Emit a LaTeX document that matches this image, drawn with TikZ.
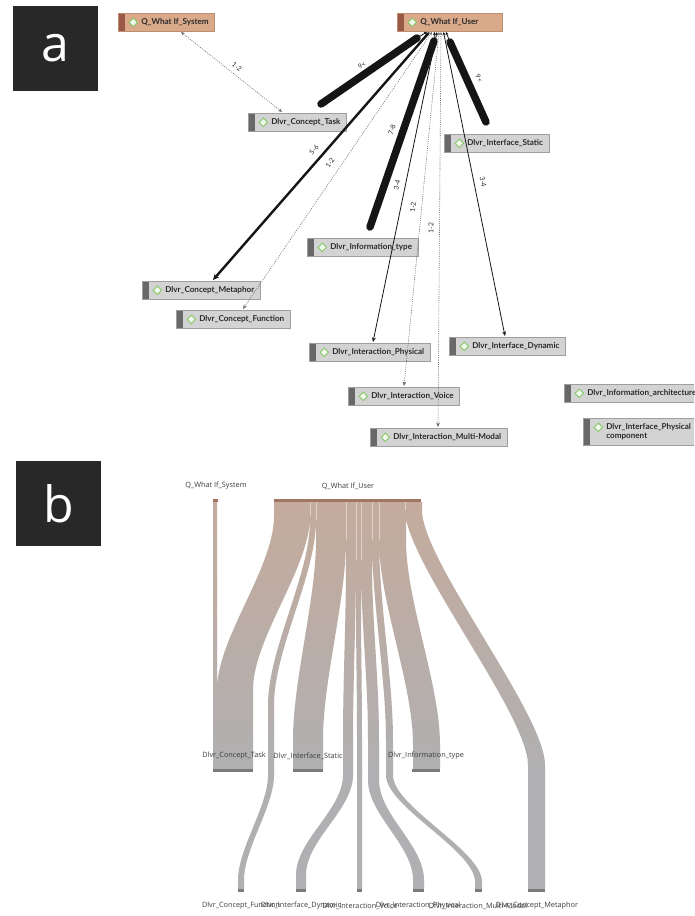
\documentclass[tikz,border=0pt]{standalone}
\usepackage{fontspec}
\usetikzlibrary{arrows.meta,calc}
\newfontfamily\latofont{Lato}
\newfontfamily\opensansfont{Open Sans}

\definecolor{tanfill}{HTML}{D9A98A}
\definecolor{tanline}{HTML}{BE8E72}
\definecolor{tanband}{HTML}{9A5846}
\definecolor{grayfill}{HTML}{D3D3D3}
\definecolor{grayline}{HTML}{9E9E9E}
\definecolor{grayband}{HTML}{68686B}
\definecolor{gem}{HTML}{86C765}
\definecolor{gemfill}{HTML}{F2F9EE}
\definecolor{inkdark}{HTML}{151515}
\definecolor{dotgray}{HTML}{6E6E6E}
\definecolor{textdark}{HTML}{2A2A2A}
\definecolor{tagdark}{HTML}{282828}
\definecolor{flowtan}{HTML}{C4AB9D}
\definecolor{flowgray}{HTML}{B0AFB1}
\definecolor{barbrown}{HTML}{A07563}
\definecolor{bargray}{HTML}{7B7B7D}
\definecolor{sanktext}{HTML}{3C3C3C}

% text of a code box: room for the band and the diamond on the left
\newcommand\boxtext[2][6pt]{\hspace*{23pt}#2\hspace*{#1}}

% one-stage Sankey band: xa xb width start-curve end-curve bottom k
\newcommand\flowone[7]{%
 (#1,502) -- (#1,#4) .. controls (#1,{#4+#7*(#5-#4)}) and (#2,{#5-#7*(#5-#4)}) .. (#2,#5)
 -- (#2,#6) -- ({#2+#3},#6) -- ({#2+#3},#5)
 .. controls ({#2+#3},{#5-#7*(#5-#4)}) and ({#1+#3},{#4+#7*(#5-#4)}) .. ({#1+#3},#4)
 -- ({#1+#3},502) -- cycle }
% two-stage Sankey band: xa xmid xb width s1 e1 s2 e2 k
\newcommand\flowtwo[9]{%
 (#1,502) -- (#1,#5) .. controls (#1,{#5+#9*(#6-#5)}) and (#2,{#6-#9*(#6-#5)}) .. (#2,#6)
 -- (#2,#7) .. controls (#2,{#7+#9*(#8-#7)}) and (#3,{#8-#9*(#8-#7)}) .. (#3,#8)
 -- (#3,889) -- ({#3+#4},889) -- ({#3+#4},#8)
 .. controls ({#3+#4},{#8-#9*(#8-#7)}) and ({#2+#4},{#7+#9*(#8-#7)}) .. ({#2+#4},#7)
 -- ({#2+#4},#6) .. controls ({#2+#4},{#6-#9*(#6-#5)}) and ({#1+#4},{#5+#9*(#6-#5)}) .. ({#1+#4},#5)
 -- ({#1+#4},502) -- cycle }

\tikzset{
  boxbase/.style n args={3}{draw=#2, fill=#1, line width=0.6pt, anchor=north west,
    minimum height=18pt, inner xsep=0pt, inner ysep=2pt, align=left,
    font=\latofont\bfseries\fontsize{8.1}{9.6}\selectfont, text=textdark,
    path picture={
      \fill[#3] (path picture bounding box.north west) rectangle ([xshift=6.5pt]path picture bounding box.south west);
      \draw[gem, fill=gemfill, line width=0.9pt]
        ([xshift=10.8pt,yshift=-9pt]path picture bounding box.north west)
        -- ++(4.2pt,4.2pt) -- ++(4.2pt,-4.2pt) -- ++(-4.2pt,-4.2pt) -- cycle;
    }},
  dnode/.style={boxbase={grayfill}{grayline}{grayband}},
  qnode/.style={boxbase={tanfill}{tanline}{tanband}},
  link/.style={draw=inkdark, line width=0.8pt},
  dotlink/.style={draw=dotgray, line width=0.6pt, dash pattern=on 1pt off 1.2pt},
  heavy/.style={draw=inkdark, line width=7.5pt, line cap=round},
  backtip/.style={{Stealth[length=3.2pt,width=3pt]}-},
  bothtips/.style={{Stealth[length=4pt,width=3.4pt]}-{Stealth[length=4pt,width=3.4pt]}},
  fronttip/.style={{Stealth[length=3.2pt,width=3pt]}-{Stealth[length=4.5pt,width=3.8pt]}},
  elabel/.style={font=\latofont\fontsize{6.8}{7}\selectfont, text=textdark, inner sep=0pt},
  tagbox/.style={fill=tagdark, minimum width=85pt, minimum height=85pt, inner sep=0pt,
    text=white, font=\opensansfont\fontsize{50}{50}\selectfont},
  sklabel/.style={font=\opensansfont\fontsize{7.3}{8}\selectfont, text=sanktext, inner sep=0pt}
}

\begin{document}
\begin{tikzpicture}[x=1pt,y=-1pt]
\useasboundingbox (0,0) rectangle (694,916);
\fill[white] (0,0) rectangle (694,916);
\clip (0,0) rectangle (694,916);

% ---------- panel tags ----------
\node[tagbox] (tagA) at (55.5,48.5) {a};
\node[tagbox] (tagB) at (58.5,503.5) {b};

% ---------- network view ----------
\node[qnode] (sys)   at (118,13)  {\boxtext{Q\_What If\_System}};
\node[qnode] (user)  at (397,13)  {\boxtext[24pt]{Q\_What If\_User}};
\node[dnode] (task)  at (248,113) {\boxtext{Dlvr\_Concept\_Task}};
\node[dnode] (stat)  at (444,134) {\boxtext{Dlvr\_Interface\_Static}};
\node[dnode] (info)  at (307,238) {\boxtext{Dlvr\_Information\_type}};
\node[dnode] (meta)  at (142,281) {\boxtext{Dlvr\_Concept\_Metaphor}};
\node[dnode] (func)  at (176,310) {\boxtext{Dlvr\_Concept\_Function}};
\node[dnode] (phys)  at (309,343) {\boxtext{Dlvr\_Interaction\_Physical}};
\node[dnode] (dyn)   at (449,337) {\boxtext{Dlvr\_Interface\_Dynamic}};
\node[dnode] (voice) at (348,387) {\boxtext{Dlvr\_Interaction\_Voice}};
\node[dnode] (multi) at (370,428) {\boxtext{Dlvr\_Interaction\_Multi-Modal}};
\node[dnode] (arch)  at (564,384) {\boxtext{Dlvr\_Information\_architecture}};
\node[dnode, minimum height=27pt] (ipc) at (583,418)
  {\hspace*{23pt}Dlvr\_Interface\_Physical\hspace*{6pt}\\\hspace*{23pt}component};

% link end points
\coordinate (sysP)   at (181,32);
\coordinate (taskS)  at (282,112);
\coordinate (uTask)  at (427,32);
\coordinate (uMeta)  at (429.5,32);
\coordinate (uFunc)  at (432,32);
\coordinate (uInfo)  at (434.5,32);
\coordinate (uPhys)  at (437,32);
\coordinate (uVoice) at (439,32);
\coordinate (uMulti) at (441,32);
\coordinate (uDyn)   at (443.5,32);
\coordinate (uStat)  at (446,32);
\coordinate (taskA)  at (417,38);
\coordinate (taskB)  at (321,104);
\coordinate (statA)  at (450,42);
\coordinate (statB)  at (486,122);
\coordinate (infoA)  at (434,41);
\coordinate (infoB)  at (370,227);
\coordinate (metaP)  at (213,280);
\coordinate (funcP)  at (243,309);
\coordinate (physP)  at (373,342);
\coordinate (voiceP) at (404,386);
\coordinate (multiP) at (438,427);
\coordinate (dynP)   at (505,336);

% links
\draw[dotlink, bothtips] (sysP) -- (taskS);
\draw[link, backtip] (uTask) -- (taskA);
\draw[heavy] (taskA) -- (taskB);
\draw[link, backtip] (uStat) -- (statA);
\draw[heavy] (statA) -- (statB);
\draw[link, backtip] (uInfo) -- (infoA);
\draw[heavy] (infoA) -- (infoB);
\draw[link, line width=2.4pt, {Stealth[length=3.2pt,width=3pt]}-{Stealth[length=6pt,width=5.5pt]}] (uMeta) -- (metaP);
\draw[dotlink, fronttip] (uFunc) -- (funcP);
\draw[link, fronttip] (uPhys) -- (physP);
\draw[dotlink, fronttip] (uVoice) -- (voiceP);
\draw[dotlink, fronttip] (uMulti) -- (multiP);
\draw[link, fronttip] (uDyn) -- (dynP);

% link weights
\node[elabel, rotate=-38] (w1) at (237,67)  {1-2};
\node[elabel, rotate=35]  (w2) at (362,65)  {9<};
\node[elabel, rotate=-66] (w3) at (479,78)  {9<};
\node[elabel, rotate=48]  (w4) at (314,150) {5-6};
\node[elabel, rotate=55]  (w5) at (330,163) {1-2};
\node[elabel, rotate=71]  (w6) at (392,130) {7-8};
\node[elabel, rotate=78]  (w7) at (397,185) {3-4};
\node[elabel, rotate=84]  (w8) at (413,207) {1-2};
\node[elabel, rotate=89]  (w9) at (431,228) {1-2};
\node[elabel, rotate=-78] (w10) at (483,182) {3-4};

% ---------- flow view ----------
\begin{scope}
  \clip (213,502) rectangle (217,769)
    \flowone{274}{217}{36}{516}{690}{769}{0.3}
    \flowtwo{310}{268}{238}{6}{520}{705}{775}{880}{0.3}
    \flowone{316}{293}{30}{540}{740}{769}{0.3}
    \flowtwo{346}{343}{296}{10}{560}{740}{775}{875}{0.35}
    \flowone{356}{357}{5}{600}{740}{889}{0.4}
    \flowtwo{361}{368}{413}{11}{560}{740}{780}{880}{0.35}
    \flowtwo{372}{386}{475}{7}{540}{740}{775}{882}{0.3}
    \flowone{379}{413}{27}{540}{745}{769}{0.3}
    \flowone{405}{528}{17}{510}{765}{889}{0.2};
  \shade[top color=flowtan, bottom color=flowgray] (200,502) rectangle (560,770);
  \fill[flowgray] (200,769) rectangle (560,890);
\end{scope}

% faint seams between neighbouring bands
\foreach \sx/\sy in {310/516, 316/520, 346/540, 356/560, 361/560, 372/540, 379/540, 405/510}
  \draw[white, opacity=0.45, line width=0.5pt] (\sx,502) -- (\sx,\sy);

% source and target bars
\fill[barbrown] (213,499) rectangle (218,502);
\fill[barbrown] (274,499) rectangle (421,502);
\fill[bargray] (213,769) rectangle (253,772);
\fill[bargray] (293,769) rectangle (323,772);
\fill[bargray] (412,769) rectangle (440,772);
\fill[bargray] (238,889) rectangle (244,892);
\fill[bargray] (296,889) rectangle (306,892);
\fill[bargray] (357,889) rectangle (362,892);
\fill[bargray] (413,889) rectangle (424,892);
\fill[bargray] (475,889) rectangle (482,892);
\fill[bargray] (528,889) rectangle (545,892);

% flow labels
\node[sklabel] (lsys)  at (216,486) {Q\_What If\_System};
\node[sklabel] (luser) at (348,486) {Q\_What If\_User};
\node[sklabel] (ltask) at (234,756) {Dlvr\_Concept\_Task};
\node[sklabel] (lstat) at (308,756) {Dlvr\_Interface\_Static};
\node[sklabel] (linfo) at (426,756) {Dlvr\_Information\_type};
\node[sklabel] (lfunc) at (241,906) {Dlvr\_Concept\_Function};
\node[sklabel] (ldyn)  at (301,906) {Dlvr\_Interface\_Dynamic};
\node[sklabel] (lvoi)  at (360,906) {Dlvr\_Interaction\_Voice};
\node[sklabel] (lphy)  at (418,906) {Dlvr\_Interaction\_Physical};
\node[sklabel] (lmul)  at (478,906) {Dlvr\_Interaction\_Multi-Modal};
\node[sklabel] (lmet)  at (537,906) {Dlvr\_Concept\_Metaphor};
\end{tikzpicture}
\end{document}
